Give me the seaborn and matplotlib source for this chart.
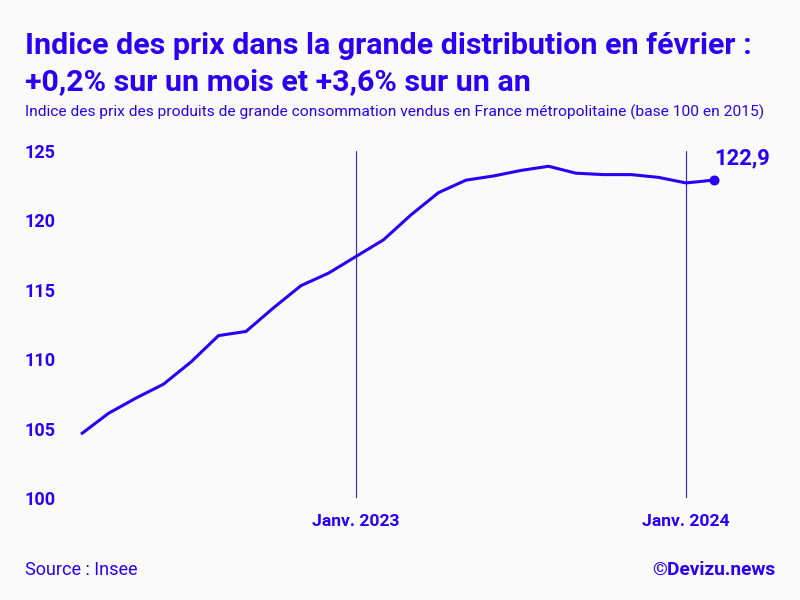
import matplotlib
matplotlib.use("Agg")
import matplotlib.pyplot as plt
import seaborn as sns
import pandas as pd

months = list(range(24))
values = [104.6, 106.1, 107.2, 108.2, 109.8, 111.7, 112.0, 113.7, 115.3, 116.2, 117.4, 118.6,
          120.4, 122.0, 122.9, 123.2, 123.6, 123.9, 123.4, 123.3, 123.3, 123.1, 122.7, 122.9]
y_ticks = [100, 105, 110, 115, 120, 125]
x_ticks = [10, 22]
x_labels = ["Janv. 2023", "Janv. 2024"]
title = "Indice des prix dans la grande distribution en février :\n+0,2% sur un mois et +3,6% sur un an"
subtitle = "Indice des prix des produits de grande consommation vendus en France métropolitaine (base 100 en 2015)"
source = "Source : Insee"
credit = "©Devizu.news"
last_label = "122,9"

BLUE = "#2A00F5"
BG = "#FAFAFA"
sns.set_theme(style="white")
plt.rcParams["font.family"] = ["Roboto", "DejaVu Sans"]

W, H = 800, 600
fig = plt.figure(figsize=(8, 6), dpi=100, facecolor=BG)
ax = fig.add_axes([81 / W, 1 - 498 / H, (713.5 - 81) / W, (498 - 151) / H], facecolor=BG)

df = pd.DataFrame({"mois": months, "indice": values})
sns.lineplot(data=df, x="mois", y="indice", color=BLUE, linewidth=2.2, ax=ax, clip_on=False,
             solid_joinstyle="miter", solid_capstyle="butt")
sns.scatterplot(x=df["mois"].iloc[-1:], y=df["indice"].iloc[-1:], color=BLUE, s=52, linewidth=0, ax=ax,
                clip_on=False, zorder=5)

ax.set_xlim(months[0], months[-1])
ax.set_ylim(100, 125)
ax.set_xlabel("")
ax.set_ylabel("")
sns.despine(ax=ax, left=True, bottom=True, top=True, right=True)

for d in x_ticks:
    ax.axvline(d, color=BLUE, linewidth=0.8, alpha=0.9, zorder=1)

ax.set_xticks(x_ticks)
ax.set_xticklabels(x_labels, color=BLUE, fontsize=12.6, fontweight="bold")
ax.set_yticks(y_ticks)
ax.set_yticklabels([str(v) for v in y_ticks], color=BLUE, fontsize=13, fontweight="bold", ha="left")
ax.tick_params(axis="x", length=0, pad=11.5)
ax.tick_params(axis="y", length=0, pad=40.5)

ax.annotate(last_label, xy=(months[-1], values[-1]), xytext=(0.7, 7.5), textcoords="offset points",
            color=BLUE, fontsize=15.8, fontweight="bold", va="bottom", ha="left", annotation_clip=False)

fig.text(25 / W, 1 - 45.5 / H, title.split("\n")[0], color=BLUE, fontsize=21.9, fontweight="bold", va="center", ha="left")
fig.text(25 / W, 1 - 82 / H, title.split("\n")[1], color=BLUE, fontsize=21.9, fontweight="bold", va="center", ha="left")
fig.text(25 / W, 1 - 112 / H, subtitle, color=BLUE, fontsize=11.15, va="center", ha="left")
fig.text(25 / W, 1 - 570 / H, source, color=BLUE, fontsize=13, va="center", ha="left")
fig.text(775.5 / W, 1 - 570 / H, credit, color=BLUE, fontsize=13.8, fontweight="bold", va="center", ha="right")

fig.savefig("out.png", dpi=100, facecolor=BG)
